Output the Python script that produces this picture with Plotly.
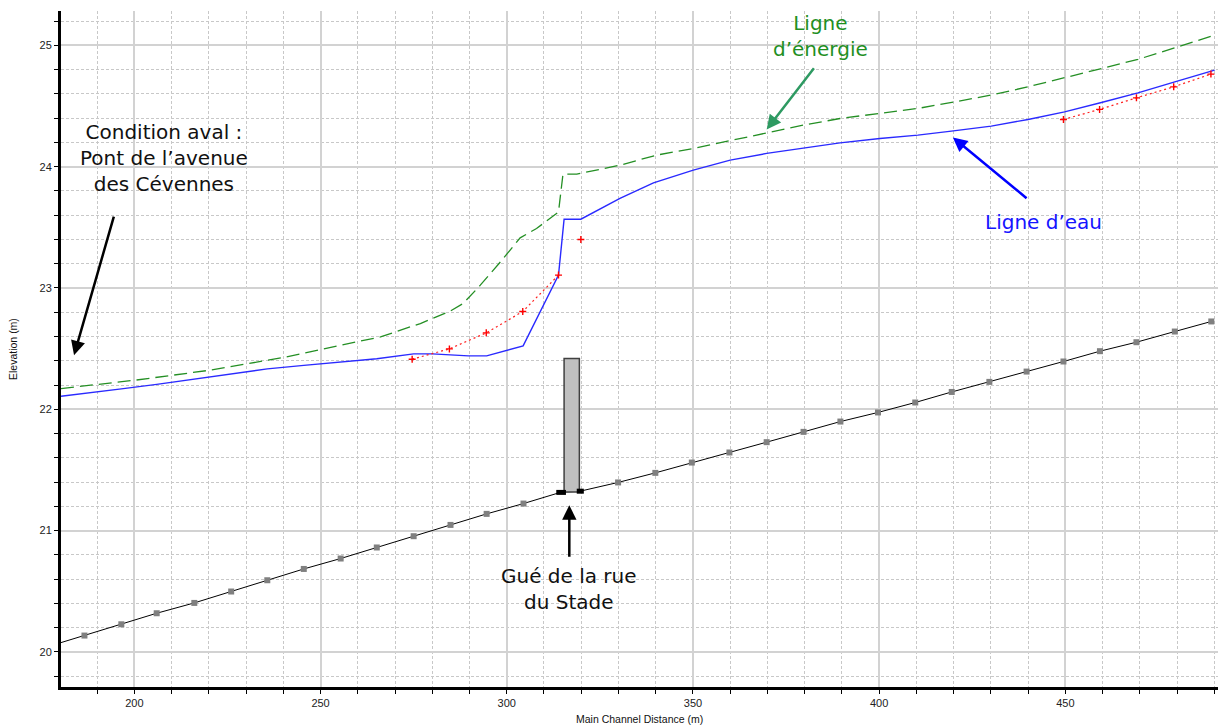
import plotly.graph_objects as go

# ---------------- data ----------------
# channel bed (thalweg) at each cross-section
bed_x = [180.3, 186.6, 196.5, 206.0, 216.1, 226.0, 235.7, 245.5, 255.4, 265.1, 275.0, 284.9,
         294.6, 304.5, 314.6, 319.7, 329.9, 339.9, 349.7, 359.8, 369.8, 379.7, 389.6, 399.7,
         409.7, 419.5, 429.6, 439.6, 449.5, 459.3, 469.1, 479.4, 489.2]
bed_y = [20.077, 20.135, 20.228, 20.319, 20.404, 20.498, 20.591, 20.684, 20.770, 20.861, 20.954,
         21.047, 21.138, 21.223, 21.317, 21.325, 21.397, 21.476, 21.561, 21.644, 21.729, 21.814,
         21.899, 21.974, 22.056, 22.143, 22.226, 22.311, 22.394, 22.479, 22.553, 22.641, 22.724]
# sections drawn with grey square markers
sec_x = [186.6, 196.5, 206.0, 216.1, 226.0, 235.7, 245.5, 255.4, 265.1, 275.0, 284.9, 294.6,
         304.5, 329.9, 339.9, 349.7, 359.8, 369.8, 379.7, 389.6, 399.7, 409.7, 419.5, 429.6,
         439.6, 449.5, 459.3, 469.1, 479.4, 489.2]
sec_y = [20.135, 20.228, 20.319, 20.404, 20.498, 20.591, 20.684, 20.770, 20.861, 20.954, 21.047,
         21.138, 21.223, 21.397, 21.476, 21.561, 21.644, 21.729, 21.814, 21.899, 21.974, 22.056,
         22.143, 22.226, 22.311, 22.394, 22.479, 22.553, 22.641, 22.724]
# ford (weir) sections: black bars on the bed
ford_left_x = [313.3, 315.9]
ford_left_y = [21.315, 21.315]
ford_right_x = [318.8, 320.7]
ford_right_y = [21.325, 21.325]
# ford structure block
weir_left = 315.4
weir_right = 319.5
weir_bottom = 21.319
weir_top = 22.419

# water surface (Ligne d'eau)
ws_x = [180.3, 186.6, 196.5, 206.0, 216.1, 226.0, 235.7, 245.5, 255.4, 265.1, 275.0, 280.0,
        289.7, 294.6, 304.4, 313.9, 315.4, 319.9, 330.4, 339.4, 350.1, 360.0, 369.8, 379.6,
        389.5, 400.2, 410.4, 419.4, 430.1, 440.0, 449.8, 459.7, 469.5, 479.4, 490.1]
ws_y = [22.108, 22.130, 22.168, 22.205, 22.250, 22.292, 22.333, 22.362, 22.392, 22.417, 22.457,
        22.457, 22.440, 22.440, 22.523, 23.106, 23.567, 23.567, 23.738, 23.867, 23.971, 24.054,
        24.109, 24.155, 24.196, 24.232, 24.260, 24.293, 24.334, 24.389, 24.452, 24.529, 24.608,
        24.699, 24.796]

# energy grade line (Ligne d'énergie)
eg_x = [180.3, 200.2, 220.3, 240.0, 259.7, 266.1, 276.8, 284.8, 288.3, 292.9, 298.3, 303.6,
        308.0, 313.9, 315.1, 318.8, 330.4, 340.2, 350.1, 360.0, 369.8, 379.6, 389.5, 400.2,
        410.4, 420.3, 430.1, 440.0, 449.8, 459.7, 469.5, 479.4, 490.1]
eg_y = [22.171, 22.240, 22.322, 22.427, 22.556, 22.597, 22.707, 22.809, 22.872, 23.023, 23.215,
        23.413, 23.490, 23.627, 23.938, 23.938, 24.012, 24.095, 24.150, 24.213, 24.279, 24.342,
        24.397, 24.439, 24.480, 24.534, 24.590, 24.658, 24.732, 24.809, 24.884, 24.980, 25.084]

# critical depth (red dotted, with crosses)
crit1_x = [274.6, 284.6, 294.5, 304.3, 313.9]
crit1_y = [22.413, 22.498, 22.630, 22.806, 23.106]
crit2_x = [319.9]
crit2_y = [23.400]
crit3_x = [449.5, 459.2, 469.1, 479.1, 489.1]
crit3_y = [24.389, 24.472, 24.567, 24.658, 24.763]

# axes
x_range = [180.3, 491.0]
y_range = [19.711, 25.283]

# annotations: (text, x, y, colour)
label_texts = ["Condition aval :<br>Pont de l’avenue<br>des Cévennes",
               "Ligne<br>d’énergie",
               "Ligne d’eau",
               "Gué de la rue<br>du Stade"]
label_x = [208.0, 384.3, 444.2, 316.8]
label_y = [24.073, 25.080, 23.545, 20.517]
label_col = ["#111111", "#1f8f1f", "#1414ff", "#111111"]
# arrows: tip (x, y) and tail (ax, ay)
arrow_x = [183.8, 369.8, 419.8, 316.8]
arrow_y = [22.446, 24.307, 24.241, 21.209]
arrow_ax = [194.6, 382.8, 440.0, 316.8]
arrow_ay = [23.600, 24.823, 23.730, 20.772]
arrow_col = ["#000000", "#2e9a62", "#0000ff", "#000000"]

# ---------------- figure ----------------
fig = go.Figure()

fig.add_trace(go.Scatter(x=bed_x, y=bed_y, mode="lines",
                         line=dict(color="#000000", width=1), hoverinfo="skip"))
fig.add_trace(go.Scatter(x=sec_x, y=sec_y, mode="markers",
                         marker=dict(symbol="square", size=6, color="#808080"),
                         hoverinfo="skip"))
fig.add_trace(go.Scatter(x=[weir_left, weir_right, weir_right, weir_left, weir_left],
                         y=[weir_bottom, weir_bottom, weir_top, weir_top, weir_bottom],
                         mode="lines", fill="toself", fillcolor="#c0c0c0",
                         line=dict(color="#404040", width=1.5), hoverinfo="skip"))
fig.add_trace(go.Scatter(x=ford_left_x, y=ford_left_y, mode="lines",
                         line=dict(color="#000000", width=5), hoverinfo="skip"))
fig.add_trace(go.Scatter(x=ford_right_x, y=ford_right_y, mode="lines",
                         line=dict(color="#000000", width=5), hoverinfo="skip"))

fig.add_trace(go.Scatter(x=eg_x, y=eg_y, mode="lines",
                         line=dict(color="#248f24", width=1.3, dash="13px,6px"),
                         hoverinfo="skip"))
fig.add_trace(go.Scatter(x=ws_x, y=ws_y, mode="lines",
                         line=dict(color="#2a2aff", width=1.4), hoverinfo="skip"))

for cx, cy in [(crit1_x, crit1_y), (crit2_x, crit2_y), (crit3_x, crit3_y)]:
    fig.add_trace(go.Scatter(x=cx, y=cy, mode="lines+markers",
                             line=dict(color="#ff2020", width=1.2, dash="2px,3px"),
                             marker=dict(symbol="cross-thin", size=5,
                                         line=dict(color="#ff0000", width=1.4)),
                             hoverinfo="skip"))

annotations = []
for t, x, y, c in zip(label_texts, label_x, label_y, label_col):
    annotations.append(dict(x=x, y=y, xref="x", yref="y", text=t, showarrow=False,
                            xanchor="center", yanchor="middle", align="center",
                            font=dict(family="DejaVu Sans", size=20, color=c)))
for x, y, ax, ay, c in zip(arrow_x, arrow_y, arrow_ax, arrow_ay, arrow_col):
    annotations.append(dict(x=x, y=y, ax=ax, ay=ay, xref="x", yref="y", axref="x",
                            ayref="y", text="", showarrow=True, arrowhead=2,
                            arrowsize=1.15, arrowwidth=2.5, arrowcolor=c, standoff=0))
annotations.append(dict(x=0.5, y=-0.047, xref="paper", yref="paper",
                        text="Main Channel Distance (m)", showarrow=False,
                        xanchor="center", yanchor="middle",
                        font=dict(family="Liberation Sans", size=10.5, color="#111111")))
annotations.append(dict(x=-0.0415, y=0.5, xref="paper", yref="paper",
                        text="Elevation (m)", showarrow=False, textangle=-90,
                        xanchor="center", yanchor="middle",
                        font=dict(family="Liberation Sans", size=10.5, color="#111111")))

grid_major = "#d2d2d2"
grid_minor = "#c8c8c8"

fig.update_layout(
    width=1218, height=726,
    margin=dict(l=61, r=0, t=11, b=39),
    paper_bgcolor="white", plot_bgcolor="white",
    showlegend=False,
    annotations=annotations,
    xaxis=dict(range=x_range, tick0=0, dtick=50, showgrid=True, gridcolor=grid_major,
               gridwidth=1.5, zeroline=False, showline=True, linecolor="#000000",
               linewidth=3, ticks="outside", ticklen=4, tickcolor="#000000",
               tickfont=dict(family="Liberation Sans", size=11, color="#222222"),
               minor=dict(dtick=10, tick0=0, showgrid=True, gridcolor=grid_minor,
                          griddash="3px,2px", gridwidth=1, ticks="outside", ticklen=4,
                          tickcolor="#000000")),
    yaxis=dict(range=y_range, tick0=0, dtick=1, showgrid=True, gridcolor=grid_major,
               gridwidth=1.5, zeroline=False, showline=True, linecolor="#000000",
               linewidth=3, ticks="outside", ticklen=4, tickcolor="#000000",
               tickfont=dict(family="Liberation Sans", size=11, color="#222222"),
               minor=dict(dtick=0.2, tick0=0, showgrid=True, gridcolor=grid_minor,
                          griddash="3px,2px", gridwidth=1, ticks="outside", ticklen=4,
                          tickcolor="#000000")),
)

fig.write_html("out.html")
